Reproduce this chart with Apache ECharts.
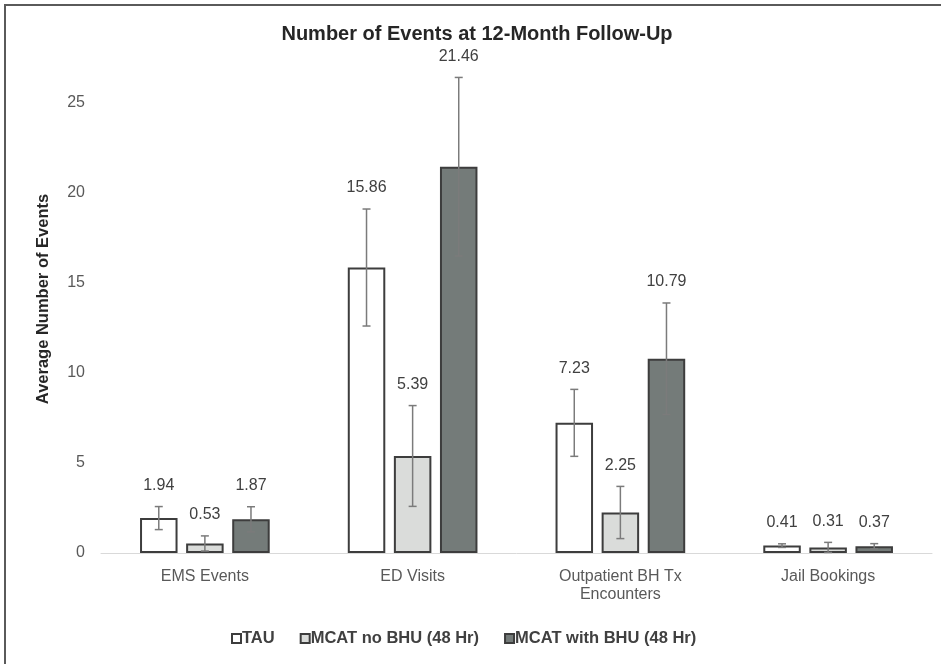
<!DOCTYPE html>
<html>
<head>
<meta charset="utf-8">
<script src="https://cdn.jsdelivr.net/npm/echarts@6/dist/echarts.min.js"></script>
<style>
html,body{margin:0;padding:0;background:#fff;}
#chart{width:941px;height:664px;}
</style>
</head>
<body>
<div id="chart"></div>
<script>
const categories = ['EMS Events', 'ED Visits', 'Outpatient BH Tx\nEncounters', 'Jail Bookings'];
const seriesNames = ['TAU', 'MCAT no BHU (48 Hr)', 'MCAT with BHU (48 Hr)'];
const tauValues = [1.94, 15.86, 7.23, 0.41];
const noBhuValues = [0.53, 5.39, 2.25, 0.31];
const withBhuValues = [1.87, 21.46, 10.79, 0.37];
const tauErr = [0.64, 3.25, 1.86, 0.1];
const noBhuErr = [0.42, 2.8, 1.45, 0.28];
const withBhuErr = [0.7, 4.96, 3.1, 0.15];
const yTicks = [0, 5, 10, 15, 20, 25];

const fills = ['#ffffff', '#dadcda', '#747b79'];
const values = [tauValues, noBhuValues, withBhuValues];
const errs = [tauErr, noBhuErr, withBhuErr];

const BAR_W = 37.5;
const BAR_GAP = 8.6;
const FONT = '"Liberation Sans", Arial, sans-serif';

const chart = echarts.init(document.getElementById('chart'), null, {renderer: 'canvas'});

const series = [];
seriesNames.forEach((name, i) => {
  series.push({
    name: name,
    type: 'bar',
    barWidth: BAR_W,
    barGap: (BAR_GAP / BAR_W * 100).toFixed(1) + '%',
    data: values[i],
    itemStyle: {color: fills[i], borderColor: '#3d3d3d', borderWidth: 2},
    emphasis: {disabled: true},
    z: 2
  });
});
seriesNames.forEach((name, i) => {
  series.push({
    type: 'custom',
    name: name + ' err',
    clip: false,
    z: 5,
    data: values[i].map((v, k) => [k, v, errs[i][k]]),
    encode: {x: 0, y: 1},
    renderItem: function (params, api) {
      const k = api.value(0), v = api.value(1), e = api.value(2);
      const c = api.coord([k, v]);
      const x = c[0] + (i - 1) * (BAR_W + BAR_GAP);
      const yt = api.coord([k, v + e])[1];
      const yb = api.coord([k, Math.max(v - e, 0)])[1];
      const cap = 4;
      const st = {stroke: '#7b7b7b', lineWidth: 1.5};
      return {
        type: 'group',
        children: [
          {type: 'line', shape: {x1: x, y1: yt, x2: x, y2: yb}, style: st},
          {type: 'line', shape: {x1: x - cap, y1: yt, x2: x + cap, y2: yt}, style: st},
          {type: 'line', shape: {x1: x - cap, y1: yb, x2: x + cap, y2: yb}, style: st},
          {type: 'text', x: x, y: Math.min(yt, c[1]) - 13,
           style: {text: v.toFixed(2), fill: '#404040', font: '16px ' + FONT,
                   align: 'center', verticalAlign: 'bottom'}}
        ]
      };
    }
  });
});

const option = {
  animation: false,
  backgroundColor: '#ffffff',
  title: {
    text: 'Number of Events at 12-Month Follow-Up',
    left: 472,
    textAlign: 'center',
    top: 19,
    textStyle: {fontFamily: FONT, fontSize: 20, fontWeight: 'bold', color: '#262626'}
  },
  legend: {
    data: seriesNames,
    top: 625,
    left: 226,
    icon: 'rect',
    itemWidth: 9,
    itemHeight: 9,
    itemGap: 25,
    textStyle: {fontFamily: FONT, fontSize: 16.5, fontWeight: 'bold', color: '#404040', padding: [0, 0, 0, -4]}
  },
  grid: {left: 101, right: 9, top: 103, bottom: 111},
  xAxis: {
    type: 'category',
    data: categories,
    axisLine: {lineStyle: {color: '#d9d9d9', width: 1}},
    axisTick: {show: false},
    axisLabel: {color: '#595959', fontSize: 16, fontFamily: FONT, margin: 15, lineHeight: 18}
  },
  yAxis: {
    type: 'value',
    min: 0,
    max: 25,
    interval: 5,
    axisLine: {show: false},
    axisTick: {show: false},
    splitLine: {show: false},
    axisLabel: {color: '#595959', fontSize: 16, fontFamily: FONT, margin: 16,
      formatter: v => yTicks.includes(v) ? String(v) : ''}
  },
  graphic: [
    {type: 'line', shape: {x1: 4, y1: 5, x2: 941, y2: 5}, style: {stroke: '#5a5a5a', lineWidth: 2}},
    {type: 'line', shape: {x1: 5, y1: 5, x2: 5, y2: 664}, style: {stroke: '#5a5a5a', lineWidth: 2}},
    {type: 'text', x: 43, y: 299, rotation: Math.PI / 2,
     style: {text: 'Average Number of Events', fill: '#262626', font: 'bold 16.5px ' + FONT,
             align: 'center', verticalAlign: 'middle'}}
  ],
  series: series
};
chart.setOption(option);
</script>
</body>
</html>
